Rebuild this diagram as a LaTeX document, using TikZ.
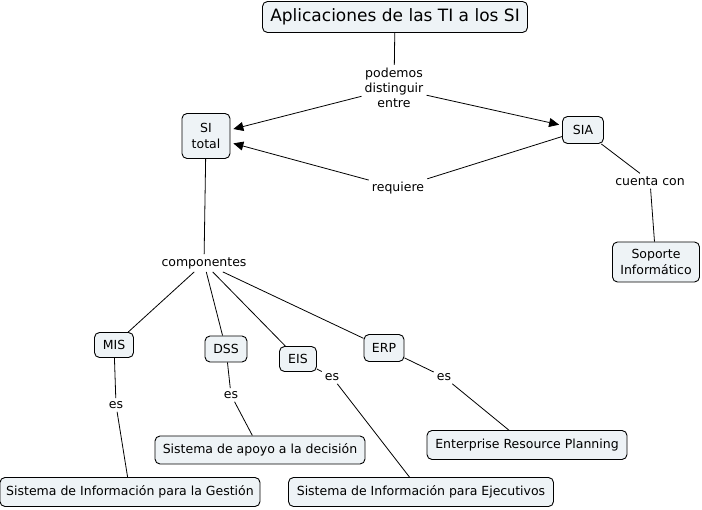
\documentclass[tikz,border=0pt]{standalone}
\usepackage{fontspec}
\setmainfont{DejaVu Sans}
\usetikzlibrary{arrows.meta}
\definecolor{boxfill}{RGB}{238,243,246}
\tikzset{
  concept/.style={draw=black, fill=boxfill, rounded corners=5pt, line width=0.9pt, align=center, inner sep=0pt, font=\fontsize{12.5}{16.5}\selectfont},
  linklabel/.style={align=center, inner sep=3pt, font=\fontsize{12.5}{15}\selectfont},
  conn/.style={line width=0.8pt},
  arr/.style={line width=0.8pt, -{Triangle[length=10pt,width=9pt]}, shorten >=3pt}
}
\begin{document}
\begin{tikzpicture}[x=1pt,y=-1pt]
\useasboundingbox (0,0) rectangle (702,510);
% concepts
\node[concept, minimum width=265pt, minimum height=31pt, font=\fontsize{17}{19}\selectfont] (title) at (395,17) {Aplicaciones de las TI a los SI};
\node[concept, minimum width=48pt, minimum height=45pt] (sit) at (206,136) {SI\\total};
\node[concept, minimum width=41pt, minimum height=27pt] (sia) at (583,130) {SIA};
\node[concept, minimum width=87pt, minimum height=40pt] (sop) at (656,262) {Soporte\\Informático};
\node[concept, minimum width=39pt, minimum height=25pt] (mis) at (114,345) {MIS};
\node[concept, minimum width=42pt, minimum height=26pt] (dss) at (226,349) {DSS};
\node[concept, minimum width=37pt, minimum height=25pt] (eis) at (298,359) {EIS};
\node[concept, minimum width=40pt, minimum height=27pt] (erp) at (384,348) {ERP};
\node[concept, minimum width=210pt, minimum height=28pt] (sad) at (260,450) {Sistema de apoyo a la decisión};
\node[concept, minimum width=260pt, minimum height=29pt] (sig) at (130,492) {Sistema de Información para la Gestión};
\node[concept, minimum width=265pt, minimum height=29pt] (sie) at (421,492) {Sistema de Información para Ejecutivos};
\node[concept, minimum width=200pt, minimum height=29pt] (erpf) at (527,445) {Enterprise Resource Planning};
% link labels
\node[linklabel] (pod) at (394,88) {podemos\\distinguir\\entre};
\node[linklabel] (req) at (398,188) {requiere};
\node[linklabel] (cue) at (650,181) {cuenta con};
\node[linklabel] (com) at (204,263) {componentes};
\node[linklabel] (es1) at (116,405) {es};
\node[linklabel] (es2) at (231,395) {es};
\node[linklabel] (es3) at (332,377) {es};
\node[linklabel] (es4) at (444,377) {es};
% connectors
\draw[conn] (title) -- (pod);
\draw[arr] (pod) -- (sit);
\draw[arr] (pod) -- (sia);
\draw[conn] (sia) -- (req);
\draw[arr] (req) -- (sit);
\draw[conn] (sia) -- (cue);
\draw[conn] (cue) -- (sop);
\draw[conn] (sit) -- (com);
\draw[conn] (com) -- (mis);
\draw[conn] (com) -- (dss);
\draw[conn] (com) -- (eis);
\draw[conn] (com) -- (erp);
\draw[conn] (mis) -- (es1);
\draw[conn] (es1) -- (sig);
\draw[conn] (dss) -- (es2);
\draw[conn] (es2) -- (sad);
\draw[conn] (eis) -- (es3);
\draw[conn] (es3) -- (sie);
\draw[conn] (erp) -- (es4);
\draw[conn] (es4) -- (erpf);
\end{tikzpicture}
\end{document}
